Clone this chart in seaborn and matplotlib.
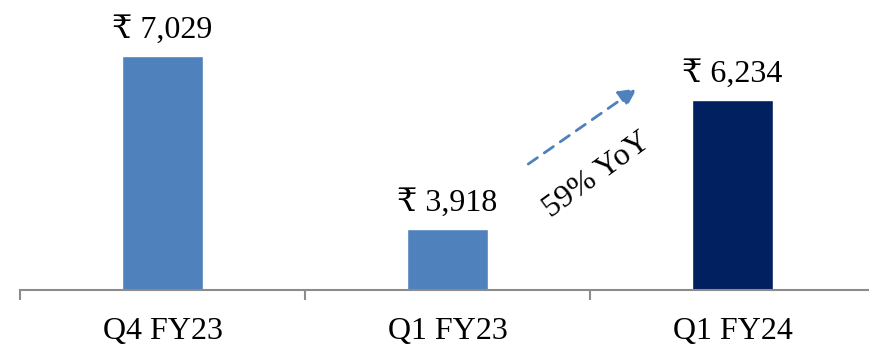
import matplotlib
matplotlib.use("Agg")
import matplotlib.pyplot as plt
import seaborn as sns
import pandas as pd

categories = ["Q4 FY23", "Q1 FY23", "Q1 FY24"]
values = [7029, 3918, 6234]
value_labels = ["₹ 7,029", "₹ 3,918", "₹ 6,234"]
bar_colors = ["#4F81BD", "#4F81BD", "#002060"]
growth_label = "59% YoY"

sns.set_theme(style="white")
plt.rcParams["font.family"] = ["Liberation Serif", "DejaVu Serif", "DejaVu Sans"]

df = pd.DataFrame({"period": categories, "value": values})

fig = plt.figure(figsize=(8.7, 3.47), dpi=100)
ax = fig.add_axes([0.023, 0.1657, 0.983, 0.8343])

sns.barplot(data=df, x="period", y="value", hue="period", palette=bar_colors,
            legend=False, width=0.284, saturation=1, ax=ax)

ymin = 2820
ax.set_xlim(-0.5, 2.5)
ax.set_ylim(ymin, 8040)
ax.set_xlabel("")
ax.set_ylabel("")
ax.set_yticks([])
for s in ["top", "right", "left"]:
    ax.spines[s].set_visible(False)
ax.spines["bottom"].set_color("#8C8C8C")
ax.spines["bottom"].set_linewidth(1.5)

fs = 23
ax.set_xticks([0, 1, 2])
ax.set_xticklabels(categories, fontsize=fs, color="black")
ax.set_xticks([-0.5, 0.5, 1.5, 2.5], minor=True)
ax.tick_params(axis="x", which="major", length=0, pad=19.5)
ax.tick_params(axis="x", which="minor", length=7, width=1.5, color="#8C8C8C",
               direction="out", bottom=True)

bars = [p for c in ax.containers for p in c]
for p, lab in zip(bars, value_labels):
    ax.annotate(lab, (p.get_x() + p.get_width() / 2, p.get_y() + p.get_height()),
                xytext=(0, 8), textcoords="offset points", ha="center", va="bottom",
                fontsize=fs, color="black")

ax.annotate("", xy=(1.672, 6473), xytext=(1.275, 5054),
            arrowprops=dict(arrowstyle="-|>,head_length=0.9,head_width=0.45",
                            linestyle=(0, (4, 3)), color="#4F81BD", lw=2))
ax.text(1.525, 4880, growth_label, rotation=36, ha="center", va="center",
        fontsize=fs, color="black", rotation_mode="anchor")

fig.savefig("out.png", dpi=100)
